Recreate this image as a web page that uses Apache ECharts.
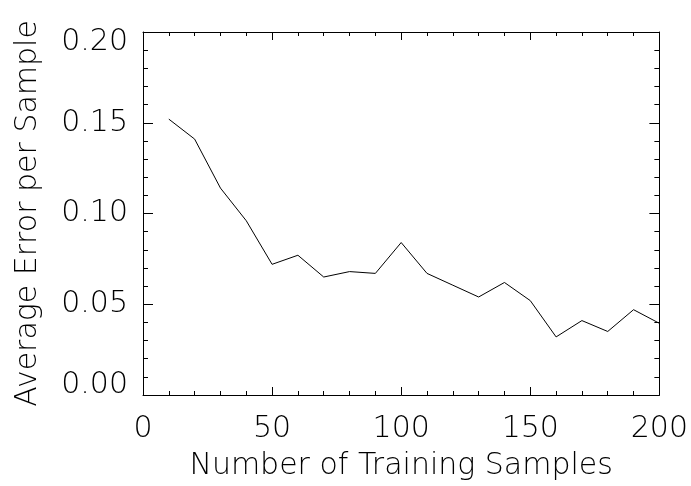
<!DOCTYPE html>
<html lang="en">
<head>
  <meta charset="UTF-8">
  <title>Average Error per Sample</title>
  <script src="https://cdn.jsdelivr.net/npm/echarts@6/dist/echarts.min.js"></script>
  <style>
    html, body { margin: 0; padding: 0; background: #fff; }
    #chart { width: 691px; height: 486px; }
  </style>
</head>
<body>
  <div id="chart"></div>
  <script>
    // training set sizes and the error
    var samples = [10, 20, 30, 40, 50, 60, 70, 80, 90, 100,
                   110, 120, 130, 140, 150, 160, 170, 180, 190, 200];
    var avgError = [0.152, 0.141, 0.114, 0.096, 0.072, 0.077, 0.065, 0.068, 0.067, 0.084,
                    0.067, 0.0605, 0.054, 0.062, 0.052, 0.032, 0.041, 0.035, 0.047, 0.0395];

    var font = '"DejaVu Sans", sans-serif';
    var fs = 30;
    var ink = '#000';

    var points = samples.map(function (s, i) { return [s, avgError[i]]; });

    // IDL style box: ticks pointing in on every side
    function xAx(pos, show) {
      return {
        type: 'value', position: pos, min: 0, max: 200, interval: 50,
        name: show ? 'Number of Training Samples' : '',
        nameLocation: 'middle', nameGap: 56,
        nameTextStyle: { fontFamily: font, fontSize: fs, fontWeight: 200, color: ink },
        axisLine: { show: true, onZero: false, lineStyle: { color: ink, width: 1 } },
        axisTick: { show: true, inside: true, length: 8, lineStyle: { color: ink } },
        minorTick: { show: true, splitNumber: 5, length: 4, lineStyle: { color: ink } },
        splitLine: { show: false },
        axisLabel: {
          show: show, margin: 19, fontFamily: font, fontSize: fs, fontWeight: 200, color: ink,
          showMinLabel: true, showMaxLabel: true
        }
      };
    }

    function yAx(pos, show) {
      return {
        type: 'value', position: pos, min: 0, max: 0.2, interval: 0.05,
        name: show ? 'Average Error per Sample' : '',
        nameLocation: 'middle', nameGap: 100,
        nameTextStyle: { fontFamily: font, fontSize: fs, fontWeight: 200, color: ink },
        axisLine: { show: true, onZero: false, lineStyle: { color: ink, width: 1 } },
        axisTick: { show: true, inside: true, length: 10, lineStyle: { color: ink } },
        minorTick: { show: true, splitNumber: 5, length: 5, lineStyle: { color: ink } },
        splitLine: { show: false },
        axisLabel: {
          show: show, margin: 15, fontFamily: font, fontSize: fs, fontWeight: 200, color: ink,
          showMinLabel: true, showMaxLabel: true,
          formatter: function (v) {
            var t = v.toFixed(2);
            if (v >= 0.2 - 1e-9) return '{top|' + t + '}';
            if (v <= 1e-9) return '{bot|' + t + '}';
            return t;
          },
          rich: {
            top: { fontFamily: font, fontSize: fs, fontWeight: 200, color: ink, padding: [20, 0, 0, 0] },
            bot: { fontFamily: font, fontSize: fs, fontWeight: 200, color: ink, padding: [0, 0, 20, 0] }
          }
        }
      };
    }

    var chart = echarts.init(document.getElementById('chart'), null, { renderer: 'canvas' });
    chart.setOption({
      backgroundColor: '#fff',
      animation: false,
      grid: { left: 143, right: 30, top: 32, bottom: 90, containLabel: false },
      xAxis: [xAx('bottom', true), xAx('top', false)],
      yAxis: [yAx('left', true), yAx('right', false)],
      series: [{
        type: 'line',
        xAxisIndex: 0,
        yAxisIndex: 0,
        data: points,
        showSymbol: false,
        lineStyle: { color: ink, width: 1 }
      }]
    });
  </script>
</body>
</html>
